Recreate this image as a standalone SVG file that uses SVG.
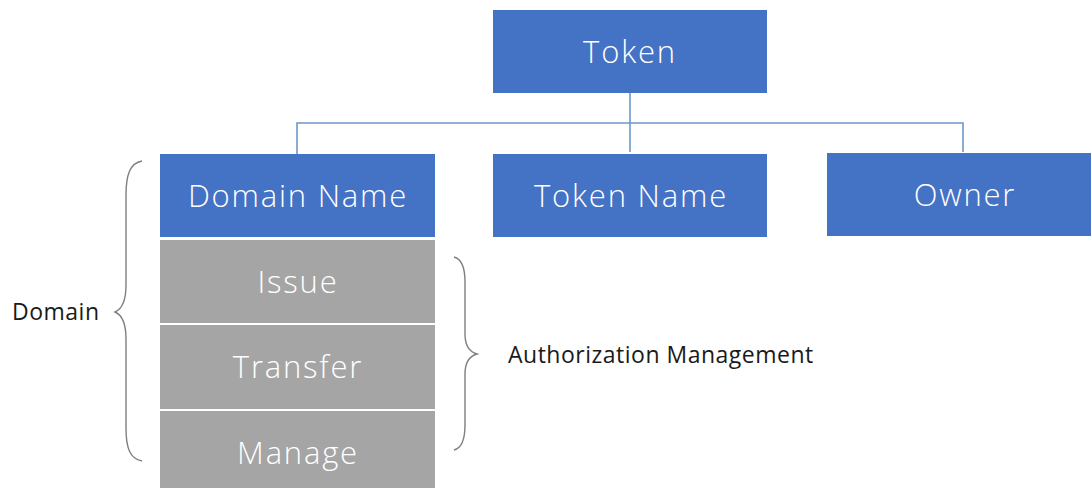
<svg xmlns="http://www.w3.org/2000/svg" width="1091" height="488" viewBox="0 0 1091 488">
  <style>
    .blue { fill: #4472C4; }
    .gray { fill: #A5A5A5; }
    .lbl { font-family: "Open Sans", "Noto Sans", sans-serif; font-weight: 300; font-size: 31px; letter-spacing: 1.8px; fill: #FFFFFF; text-anchor: middle; }
    .note { font-family: "Open Sans", "Noto Sans", sans-serif; font-size: 23px; letter-spacing: 0.5px; fill: #1A1A1A; }
    .link { fill: none; stroke: #6E97C9; stroke-width: 1.6; }
    .brace { fill: none; stroke: #7F7F7F; stroke-width: 1.4; }
  </style>
  <rect width="1091" height="488" fill="#FFFFFF"/>

  <!-- tree connectors -->
  <g id="connectors">
    <path class="link" d="M630 93 V152"/>
    <path class="link" d="M297 154 V123 H963 V152"/>
  </g>

  <!-- root -->
  <g id="token">
    <rect class="blue" x="493" y="10" width="274" height="83"/>
    <text class="lbl" x="630" y="63">Token</text>
  </g>

  <!-- children -->
  <g id="domain-name">
    <rect class="blue" x="160" y="154" width="275" height="83"/>
    <text class="lbl" x="298" y="207">Domain Name</text>
  </g>
  <g id="token-name">
    <rect class="blue" x="493" y="154" width="274" height="83"/>
    <text class="lbl" x="631" y="207">Token Name</text>
  </g>
  <g id="owner">
    <rect class="blue" x="827" y="153" width="274" height="83"/>
    <text class="lbl" x="965" y="206">Owner</text>
  </g>

  <!-- authorization rows under the domain name -->
  <g id="issue">
    <rect class="gray" x="160" y="240" width="275" height="83"/>
    <text class="lbl" x="298" y="293">Issue</text>
  </g>
  <g id="transfer">
    <rect class="gray" x="160" y="325" width="275" height="84"/>
    <text class="lbl" x="298" y="378">Transfer</text>
  </g>
  <g id="manage">
    <rect class="gray" x="160" y="411" width="275" height="84"/>
    <text class="lbl" x="298" y="464">Manage</text>
  </g>

  <!-- braces and their labels -->
  <g id="domain-brace">
    <path class="brace" d="M142 161 C130 163 126 175 126 195 V285 C126 302 122 309 115 312 C122 315 126 322 126 339 V428 C126 448 130 459 142 461"/>
    <text class="note" x="12" y="320">Domain</text>
  </g>
  <g id="auth-brace">
    <path class="brace" d="M454 257 C462 259 465 267 465 282 V334 C465 346 470 352 477 354 C470 356 465 362 465 374 V425 C465 440 462 448 454 450"/>
    <text class="note" x="508" y="363">Authorization Management</text>
  </g>
</svg>
